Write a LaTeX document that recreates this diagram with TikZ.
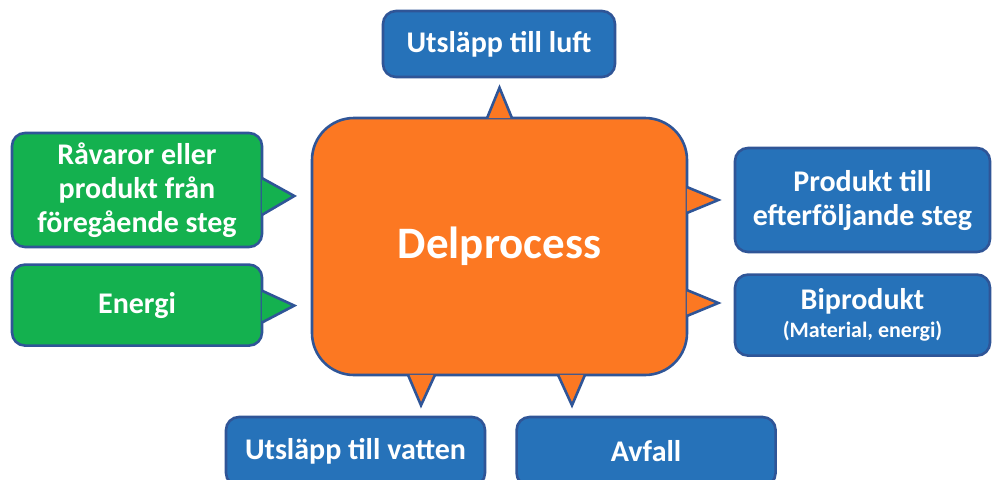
\documentclass[tikz,border=0pt]{standalone}
\usepackage{fontspec}
\setmainfont{Carlito}
\usetikzlibrary{positioning, calc}
\definecolor{lcaorange}{HTML}{FC7822}
\definecolor{lcablue}{HTML}{2672B9}
\definecolor{lcagreen}{HTML}{14B14F}
\definecolor{lcaedge}{HTML}{2F5597}

\begin{document}
\begin{tikzpicture}[
    x=1pt, y=-1pt,
    flow/.style={rectangle, draw=lcaedge, line width=2.6pt, rounded corners=13pt, inner sep=0pt, align=center, text=white, font=\fontsize{30}{34}\selectfont\bfseries},
    inflow/.style={flow, fill=lcagreen, minimum width=250pt},
    outflow/.style={flow, fill=lcablue},
    core/.style={flow, fill=lcaorange, rounded corners=42pt, minimum width=375pt, minimum height=257pt, font=\fontsize{45}{54}\selectfont\bfseries},
    edge/.style={draw=lcaedge, line width=2.6pt}
]
\useasboundingbox (0,0) rectangle (992,479);

\node[core] (proc) at (499.5,246.5) {Delprocess};

% inputs
\node[inflow, minimum height=114pt] (raw) at (137,190) {Råvaror eller\\produkt från\\föregående steg};
\node[inflow, minimum height=81pt, below=15pt of raw] (energy) {Energi};

% outputs
\node[outflow, minimum width=232pt, minimum height=66pt] (air) at (499,44) {Utsläpp till luft};
\node[outflow, minimum width=255pt, minimum height=104pt] (next) at (862.5,200) {Produkt till\\efterföljande steg};
\node[outflow, minimum width=255pt, minimum height=81pt, below=20pt of next] (byprod) {Biprodukt\\[-6pt]{\fontsize{22}{26}\selectfont(Material, energi)}};
\node[outflow, minimum width=259pt, minimum height=69pt] (water) at (355.5,451.5) {Utsläpp till vatten};
\node[outflow, minimum width=259pt, minimum height=69pt, right=29pt of water] (waste) {Avfall};

% spikes
\filldraw[edge, fill=lcagreen] ($(raw.east)+(-1.5,-12)$) -- ($(raw.east)+(31,6)$) -- ($(raw.east)+(-1.5,25)$);
\filldraw[edge, fill=lcagreen] ($(energy.east)+(-1.5,-14.5)$) -- ($(energy.east)+(31,0.5)$) -- ($(energy.east)+(-1.5,17.5)$);
\filldraw[edge, fill=lcaorange] ($(proc.north)+(-12.5,1.5)$) -- ($(proc.north)+(0,-29)$) -- ($(proc.north)+(12.5,1.5)$);
\filldraw[edge, fill=lcaorange] ($(proc.east)+(-1.5,-59.5)$) -- ($(proc.east)+(30,-46.5)$) -- ($(proc.east)+(-1.5,-33.5)$);
\filldraw[edge, fill=lcaorange] ($(proc.east)+(-1.5,43.5)$) -- ($(proc.east)+(30,56.5)$) -- ($(proc.east)+(-1.5,69.5)$);
\filldraw[edge, fill=lcaorange] ($(proc.south)+(-91.5,-1.5)$) -- ($(proc.south)+(-78.5,29)$) -- ($(proc.south)+(-64.5,-1.5)$);
\filldraw[edge, fill=lcaorange] ($(proc.south)+(58.5,-1.5)$) -- ($(proc.south)+(72.5,29)$) -- ($(proc.south)+(85.5,-1.5)$);
\end{tikzpicture}
\end{document}
